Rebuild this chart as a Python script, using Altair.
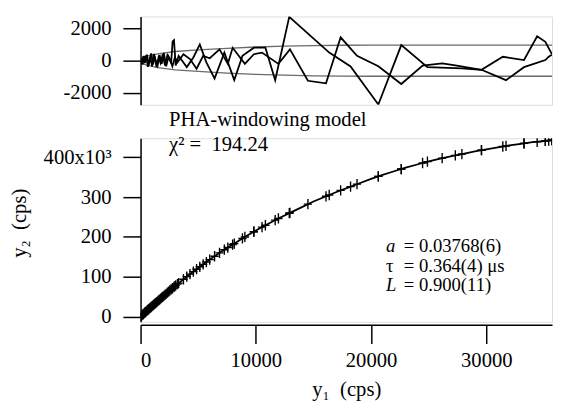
import altair as alt
import pandas as pd

# ---- fitted curve (y1, y2 in cps) ----
fit_y1 = [0, 1000, 2000, 3000, 4000, 5000, 6000, 7000, 8000, 9000, 10000, 11000,
          12000, 13000, 14000, 15000, 16000, 17000, 18000, 19000, 20000, 21000,
          22000, 23000, 24000, 25000, 26000, 27000, 28000, 29000, 30000, 31000,
          32000, 33000, 34000, 35000, 36000]
fit_y2 = [0, 26000, 51500, 77000, 100000, 122000, 143000, 163000, 181000, 199000,
          216000, 232000, 247000, 261000, 275000, 289000, 301000, 313000, 324000,
          335000, 346000, 356000, 365000, 374000, 382000, 390000, 397000, 403000,
          409000, 415000, 420000, 425000, 430000, 434000, 438000, 441000, 444000]

# ---- data set 1 ----
s1_y1 = [60, 180, 300, 420, 560, 700, 850, 1000, 1150, 1300,
         1480, 1650, 1830, 2020, 2220, 2430, 2650, 2780, 2900, 3050,
         3300, 4010, 4580, 5140, 5710, 6420, 7270, 8130, 8840, 9830,
         10830, 11680, 12900, 16370, 18220, 20630, 22620, 24890, 27880, 29580,
         31430, 33270, 34410, 35120, 35690]
s1_y2 = [1560, 4680, 7800, 10900, 14600, 18200, 22100, 26000, 29800, 33700,
         38200, 42600, 47200, 52000, 57100, 62500, 68100, 71400, 74500, 78200,
         83900, 100200, 112800, 124900, 136900, 151400, 167900, 183300, 196100, 213100,
         229300, 242200, 259600, 305400, 326400, 352300, 370600, 389100, 408300, 417900,
         427200, 435100, 439200, 441400, 443100]
s1_res = [150, -250, 300, -100, 380, -300, 200, -350, 420, 50,
          -300, 350, -200, 480, -350, 250, -150, 1200, 1280, -300,
          300, -400, 200, 1010, -100, -1111, 500, -1212, 300, 808,
          808, -1212, 2727, 505, -364, -2727, 970, -404, -480, -566,
          242, 40, 1515, 1172, 404]

# ---- data set 2 ----
s2_y1 = [100, 240, 360, 500, 630, 780, 920, 1080, 1220, 1380,
         1560, 1740, 1920, 2120, 2330, 2540, 2760, 2980, 3200, 3720,
         4290, 4860, 5430, 6000, 6850, 7570, 7990, 9050, 9830, 10540,
         11960, 12960, 14520, 16090, 17360, 18780, 20630, 22620, 24470, 26170,
         27310, 29580, 31710, 33270, 35120, 35410, 35690]
s2_y2 = [2600, 6200, 9400, 13000, 16400, 20300, 23900, 28000, 31600, 35700,
         40300, 44900, 49500, 54600, 59900, 65300, 70900, 76500, 81600, 93600,
         106400, 118900, 131000, 143000, 160000, 173300, 180800, 199900, 213100, 224600,
         246400, 260400, 282300, 302100, 317000, 332600, 352300, 370600, 385800, 398000,
         404900, 417900, 428600, 435100, 441400, 442200, 443100]
s2_res = [-200, 280, -150, 350, -380, 100, 450, -250, 300, -400,
          200, -150, 400, -300, 350, 100, -350, 200, -100, 400,
          100, -500, 300, 150, 700, -200, 800, -200, 400, 500,
          -200, 700, -1252, -1414, 1454, 300, -350, -1454, -303, -162,
          -300, -566, -1212, -404, 40, 250, 364]

# ---- error envelope in residual panel ----
env_y1 = [0, 500, 1500, 3000, 5000, 7500, 10000, 12500, 15000, 17500, 20000, 25000, 30000, 35700]
env_hi = [120, 280, 430, 570, 670, 770, 850, 905, 940, 960, 970, 970, 970, 970]
env_lo = [-120, -280, -430, -570, -670, -770, -850, -905, -940, -960, -970, -970, -970, -970]

top_ticks = [-2000, 0, 2000]
y_ticks = [0, 100000, 200000, 300000, 400000]
x_ticks = [0, 10000, 20000, 30000]

FONT = "Times New Roman, Liberation Serif, Times, DejaVu Serif, serif"

res_df = pd.concat([
    pd.DataFrame({"y1": s1_y1, "r": s1_res, "series": "1"}),
    pd.DataFrame({"y1": s2_y1, "r": s2_res, "series": "2"}),
])
env_df = pd.concat([
    pd.DataFrame({"y1": env_y1, "r": env_hi, "side": "hi"}),
    pd.DataFrame({"y1": env_y1, "r": env_lo, "side": "lo"}),
])
pts_df = pd.concat([
    pd.DataFrame({"y1": s1_y1, "y2": s1_y2}),
    pd.DataFrame({"y1": s2_y1, "y2": s2_y2}),
])
fit_df = pd.DataFrame({"y1": fit_y1, "y2": fit_y2})

xscale = alt.Scale(domain=[0, 35700], nice=False, zero=False)
ytop = alt.Scale(domain=[-2750, 2750], nice=False, zero=False)
ybot = alt.Scale(domain=[-13500, 448000], nice=False, zero=False)

ax_common = dict(domainColor="black", tickColor="black", domainWidth=1.5, tickWidth=1.5,
                 grid=False, labelFont=FONT, labelFontSize=21, labelColor="black",
                 titleFont=FONT, titleFontSize=21, titleFontWeight="normal", titleColor="black")

top_axis = alt.Axis(values=top_ticks, tickSize=18, labelPadding=12, title=None,
                    labelExpr="toString(datum.value)", **ax_common)

top_env = alt.Chart(env_df).mark_line(color="#6a6a6a", strokeWidth=1.3, clip=True).encode(
    x=alt.X("y1:Q", scale=xscale, axis=None),
    y=alt.Y("r:Q", scale=ytop, axis=top_axis),
    detail="side:N",
)
top_res = alt.Chart(res_df).mark_line(color="black", strokeWidth=1.8, clip=True).encode(
    x=alt.X("y1:Q", scale=xscale, axis=None),
    y=alt.Y("r:Q", scale=ytop, axis=top_axis),
    detail="series:N",
)
top = alt.layer(top_env, top_res).properties(width=419, height=90)

x_axis = alt.Axis(values=x_ticks, tickSize=19, labelPadding=6, offset=3, format="d",
                  title="y\u2081\u2002(cps)", titleY=72, titleBaseline="alphabetic",
                  **ax_common)
y_axis = alt.Axis(values=y_ticks, tickSize=18, labelPadding=12,
                  labelExpr="datum.value == 400000 ? '400x10\u00b3' : toString(datum.value / 1000)",
                  title="y\u2082\u2002(cps)", titleX=-123, titleY=86, titleAngle=-90,
                  titleAlign="center", titleBaseline="middle", **ax_common)

bot_line = alt.Chart(fit_df).mark_line(color="black", strokeWidth=1.8, clip=True).encode(
    x=alt.X("y1:Q", scale=xscale, axis=x_axis),
    y=alt.Y("y2:Q", scale=ybot, axis=y_axis),
)
bot_pts = alt.Chart(pts_df).mark_point(
    shape="M-0.8,0L0.8,0M0,-1L0,1", size=110, filled=False, color="black",
    strokeWidth=1.4, opacity=1, clip=True,
).encode(
    x=alt.X("y1:Q", scale=xscale, axis=x_axis),
    y=alt.Y("y2:Q", scale=ybot, axis=y_axis),
)

one = pd.DataFrame({"k": [0]})


def label(txt, px, py, align="left", style="normal", size=21):
    return alt.Chart(one).mark_text(
        text=txt, align=align, baseline="middle", font=FONT, fontSize=size,
        fontStyle=style, color="black",
    ).encode(x=alt.value(px), y=alt.value(py))


texts = [
    label("PHA-windowing model", 29, -18),
    label("\u03c7\u00b2 =\u00a0 194.24", 29, 7),
    label("a", 250, 110, style="italic", size=19),
    label("\u03c4", 250, 130, size=19),
    label("L", 250, 150, style="italic", size=19),
    label("= 0.03768(6)", 268, 110, size=19),
    label("= 0.364(4) \u03bcs", 268, 130, size=19),
    label("= 0.900(11)", 268, 150, size=19),
]

bottom = alt.layer(bot_line, bot_pts, *texts).properties(width=419, height=187)

chart = alt.vconcat(top, bottom, spacing=34, bounds="flush").properties(
    padding={"left": 0, "top": 4, "right": 0, "bottom": 0},
).configure_view(stroke=None).configure(background="white")

chart.save("out.html", embed_options={"renderer": "svg", "actions": False})
